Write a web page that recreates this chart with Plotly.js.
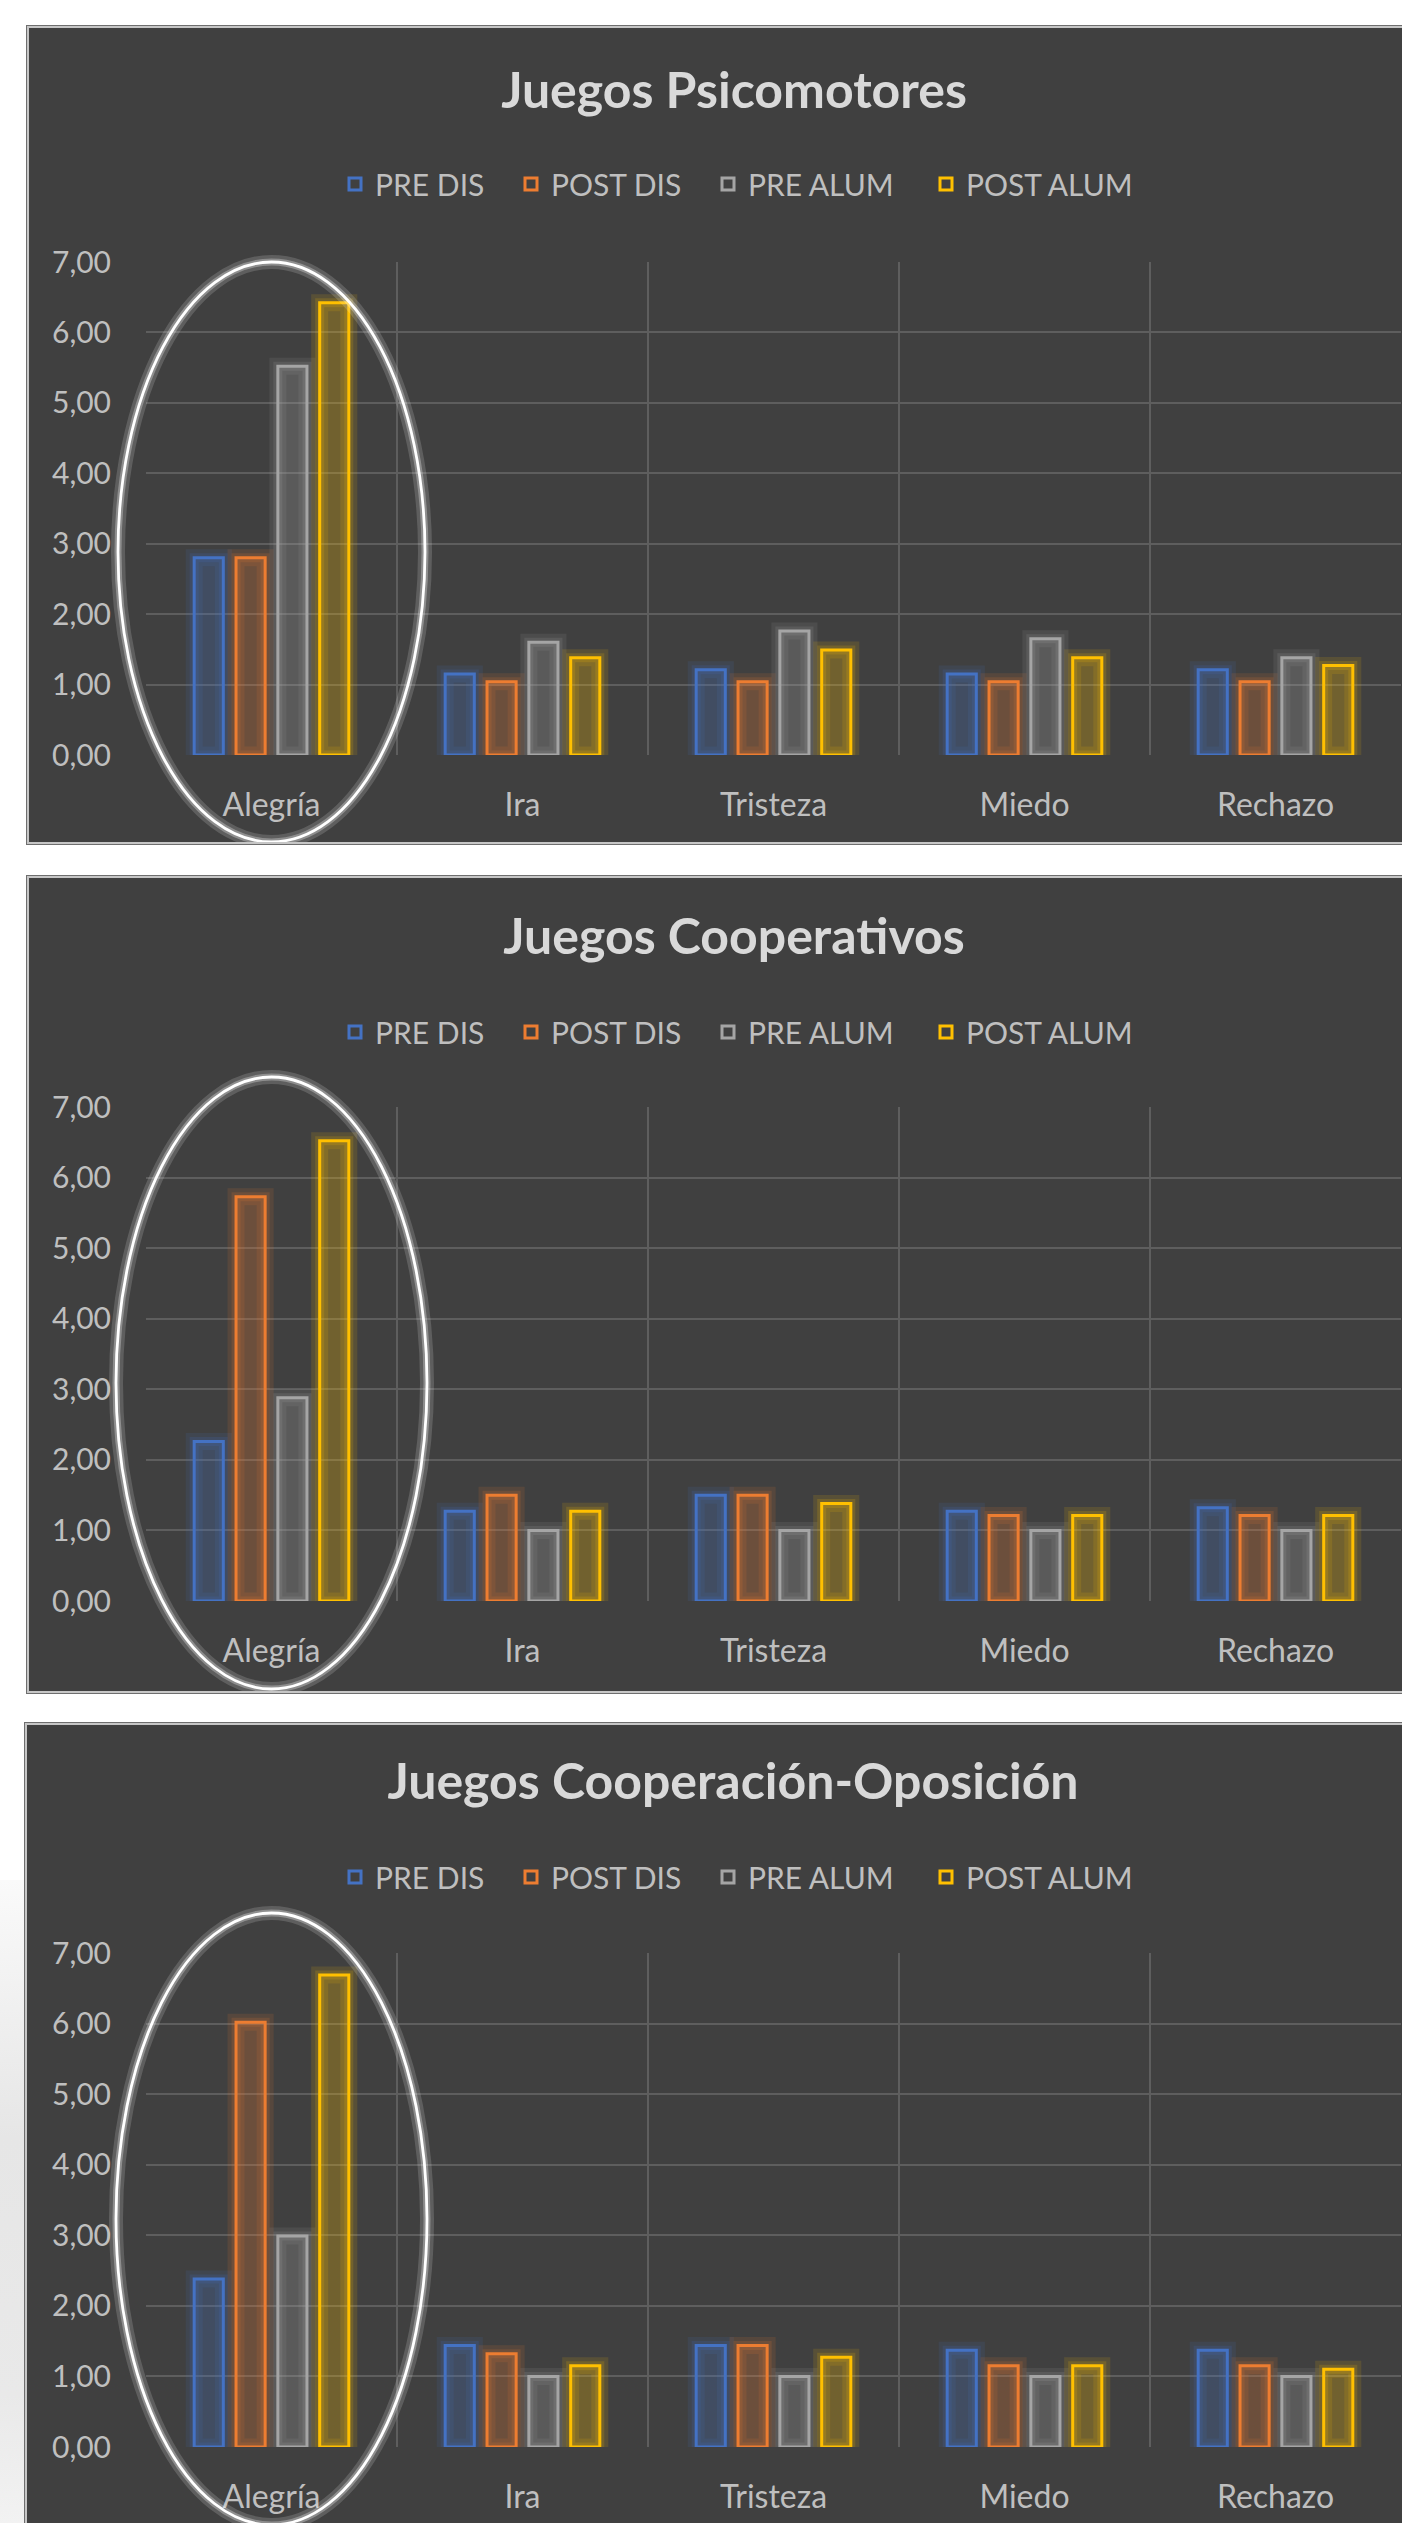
<!DOCTYPE html>
<html>
<head>
<meta charset="utf-8">
<script src="https://cdn.plot.ly/plotly-3.0.1.min.js"></script>
<style>
  html, body { margin:0; padding:0; background:#ffffff; width:1402px; height:2523px; overflow:hidden; }
  .chart { position:absolute; }
  .frame { position:absolute; pointer-events:none; box-sizing:border-box;
           box-shadow: inset 0 0 0 2px #c6c6c6, 0 0 0 1px #6e6e6e; }
  #shade { position:absolute; left:0; top:1880px; width:25px; height:643px;
           background: linear-gradient(to bottom, #fafafa, #e6e6e6 40%, #e9e9e9 80%, #f2f2f2); }
</style>
</head>
<body>
<div id="shade"></div>
<div id="c1" class="chart"></div><div id="f1" class="frame"></div>
<div id="c2" class="chart"></div><div id="f2" class="frame"></div>
<div id="c3" class="chart"></div><div id="f3" class="frame"></div>
<script>
// ---- Data ----
const categories = ['Alegría', 'Ira', 'Tristeza', 'Miedo', 'Rechazo'];
const seriesNames = ['PRE DIS', 'POST DIS', 'PRE ALUM', 'POST ALUM'];
const titles = ['Juegos Psicomotores', 'Juegos Cooperativos', 'Juegos Cooperación-Oposición'];

const psicoPreDis   = [2.80, 1.15, 1.21, 1.15, 1.21];
const psicoPostDis  = [2.80, 1.04, 1.04, 1.04, 1.04];
const psicoPreAlum  = [5.52, 1.60, 1.76, 1.65, 1.38];
const psicoPostAlum = [6.42, 1.38, 1.49, 1.38, 1.27];

const coopPreDis   = [2.26, 1.27, 1.50, 1.27, 1.32];
const coopPostDis  = [5.73, 1.50, 1.50, 1.21, 1.21];
const coopPreAlum  = [2.88, 1.00, 1.00, 1.00, 1.00];
const coopPostAlum = [6.52, 1.27, 1.38, 1.21, 1.21];

const coopOpPreDis   = [2.38, 1.44, 1.44, 1.37, 1.37];
const coopOpPostDis  = [6.02, 1.32, 1.44, 1.15, 1.15];
const coopOpPreAlum  = [2.99, 1.00, 1.00, 1.00, 1.00];
const coopOpPostAlum = [6.69, 1.15, 1.27, 1.15, 1.10];

// ---- Style ----
const colors = ['#4472C4', '#ED7D31', '#A5A5A5', '#FFC000'];
const glowRGB = ['68,114,196', '237,125,49', '165,165,165', '255,192,0'];
const FONT = 'Lato, "Open Sans", sans-serif';
const BAR_W = 0.116;
const CENTERS = [-0.25, -0.0833, 0.0833, 0.25];
const LEGEND_TEXT_X = [375, 551, 748, 966];   // page px where each legend label starts
const LEGEND_IDS = ['legend', 'legend2', 'legend3', 'legend4'];

// geometry (page pixels) per chart
const geoms = [
  { top: 26,   left: 27, width: 1414, height: 818, t: 236, b: 89, titleY: 64, legendY: 158,
    ell: { x0: 118, x1: 425, y0: 262, y1: 842 } },
  { top: 876,  left: 27, width: 1414, height: 817, t: 231, b: 92, titleY: 60, legendY: 156,
    ell: { x0: 116, x1: 427, y0: 1077, y1: 1689 } },
  { top: 1723, left: 25, width: 1416, height: 817, t: 230, b: 93, titleY: 58, legendY: 154,
    ell: { x0: 116, x1: 427, y0: 1913, y1: 2525 } }
];
const ML = 119, MR = 40;

function makeChart(idx, seriesData) {
  const g = geoms[idx];
  const el = document.getElementById('c' + (idx + 1));
  const fr = document.getElementById('f' + (idx + 1));
  [el, fr].forEach(d => {
    d.style.left = g.left + 'px'; d.style.top = g.top + 'px';
    d.style.width = g.width + 'px'; d.style.height = g.height + 'px';
  });
  const ml = ML + (27 - g.left);
  const plotW = g.width - ml - MR;
  const plotH = g.height - g.t - g.b;

  const traces = [];
  // glow traces (outer halo + tinted interior)
  seriesData.forEach((vals, i) => {
    traces.push({
      type: 'bar', x: categories, y: vals, width: BAR_W, offset: CENTERS[i] - BAR_W / 2,
      marker: { color: 'rgba(' + glowRGB[i] + ',0.26)', line: { color: 'rgba(' + glowRGB[i] + ',0.13)', width: 17 } },
      showlegend: false, hoverinfo: 'skip'
    });
    traces.push({
      type: 'bar', x: categories, y: vals, width: BAR_W, offset: CENTERS[i] - BAR_W / 2,
      marker: { color: 'rgba(0,0,0,0)', line: { color: 'rgba(' + glowRGB[i] + ',0.16)', width: 9 } },
      showlegend: false, hoverinfo: 'skip'
    });
  });
  // main outlined bars
  seriesData.forEach((vals, i) => {
    traces.push({
      type: 'bar', name: seriesNames[i], x: categories, y: vals, width: BAR_W, offset: CENTERS[i] - BAR_W / 2,
      legend: LEGEND_IDS[i],
      marker: { color: 'rgba(0,0,0,0)', line: { color: colors[i], width: 3 } }
    });
  });

  // ellipse highlight (page pixel -> paper coords)
  const plotLeft = g.left + ml, plotTop = g.top + g.t;
  const px = x => (x - plotLeft) / plotW;
  const py = y => 1 - (y - plotTop) / plotH;
  const e = g.ell;
  const ell = (color, width) => ({ type: 'circle', xref: 'paper', yref: 'paper',
      x0: px(e.x0), x1: px(e.x1), y0: py(e.y1), y1: py(e.y0), line: { color: color, width: width }, layer: 'above' });
  const shapes = [ell('rgba(255,255,255,0.16)', 14), ell('rgba(255,255,255,0.3)', 7), ell('#ffffff', 2.8)];

  const layout = {
    width: g.width, height: g.height,
    margin: { l: ml, r: MR, t: g.t, b: g.b, pad: 0 },
    paper_bgcolor: '#404040', plot_bgcolor: '#404040',
    separators: ',.',
    barmode: 'overlay',
    showlegend: true,
    title: { text: '<b>' + titles[idx] + '</b>', font: { family: FONT, size: 50, color: '#d9d9d9' },
             x: 0.5, xref: 'container', xanchor: 'center', y: 1 - g.titleY / g.height, yref: 'container', yanchor: 'middle' },
    xaxis: { type: 'category', range: [-0.5, 4.5], tickson: 'boundaries', ticks: '',
             showgrid: true, gridcolor: '#5e5e5e', gridwidth: 2, showline: false, zeroline: false,
             tickfont: { family: FONT, size: 32, color: '#bfbfbf' }, ticklabelstandoff: 28, fixedrange: true },
    yaxis: { range: [0, 7], dtick: 1, tick0: 0, tickformat: '.2f', ticks: '',
             showgrid: true, gridcolor: '#5e5e5e', gridwidth: 2, zeroline: false, showline: false,
             tickfont: { family: FONT, size: 30, color: '#bfbfbf' }, ticklabelstandoff: 34, fixedrange: true },
    shapes: shapes
  };
  LEGEND_IDS.forEach((id, i) => {
    layout[id] = { orientation: 'h', xref: 'container', yref: 'container', xanchor: 'left', yanchor: 'middle',
      x: (LEGEND_TEXT_X[i] - 40 - g.left) / g.width, y: 1 - g.legendY / g.height,
      font: { family: FONT, size: 30, color: '#bfbfbf' }, bgcolor: 'rgba(0,0,0,0)', itemwidth: 30 };
  });
  Plotly.newPlot(el, traces, layout, { staticPlot: true, displayModeBar: false });
}

makeChart(0, [psicoPreDis, psicoPostDis, psicoPreAlum, psicoPostAlum]);
makeChart(1, [coopPreDis, coopPostDis, coopPreAlum, coopPostAlum]);
makeChart(2, [coopOpPreDis, coopOpPostDis, coopOpPreAlum, coopOpPostAlum]);
</script>
</body>
</html>
